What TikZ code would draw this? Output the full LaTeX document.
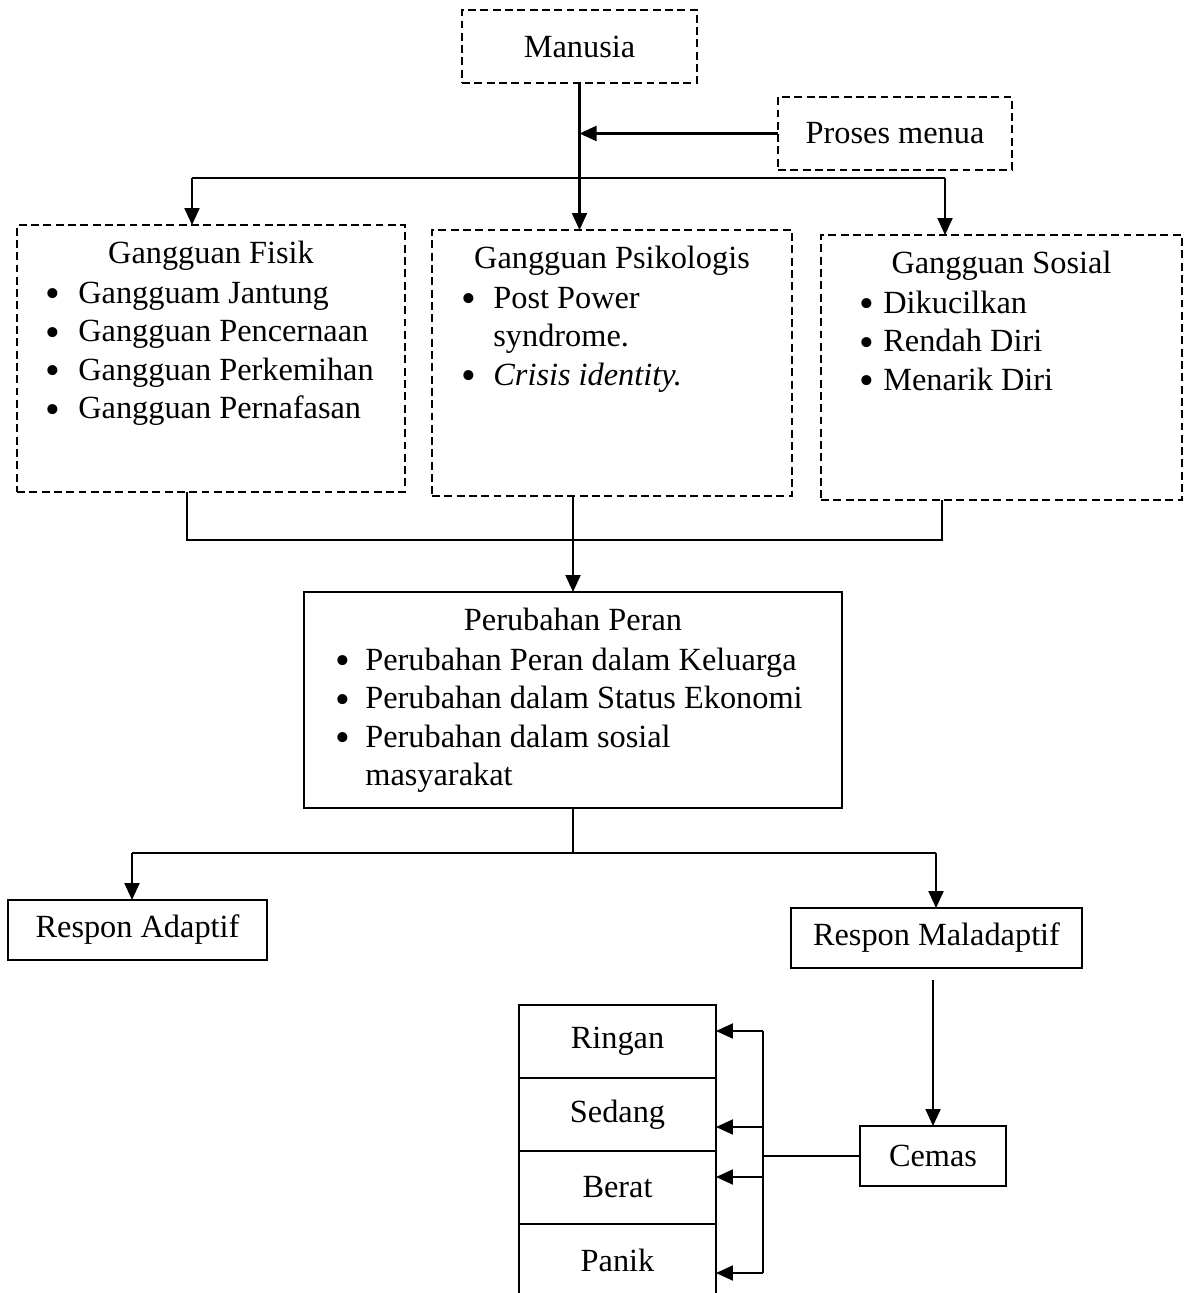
\documentclass[tikz,border=0pt]{standalone}
\usepackage{fontspec}
\setmainfont{Liberation Serif}
\usepackage{tikz}
\usetikzlibrary{arrows.meta,positioning,calc}

\newcommand{\bul}{\smash{\raisebox{-0.14em}{\scalebox{1.3}{\textbullet}}}}

\begin{document}
\begin{tikzpicture}[
    x=0.02cm, y=-0.02cm,
    font=\fontsize{18.4}{22}\selectfont,
    dbox/.style={rectangle, draw, line width=1.3pt, dash pattern=on 4.5pt off 2.5pt, inner sep=0pt, outer sep=0pt},
    box/.style={rectangle, draw, line width=1.1pt, inner sep=0pt, outer sep=0pt},
    grade/.style={box, minimum width=3.94cm, minimum height=1.46cm},
    head/.style={anchor=base, inner sep=0pt},
    list/.style={anchor=base west, inner sep=0pt},
    arrow/.style={-{Triangle[length=0.34cm, width=0.3cm]}, line width=1.2pt},
    conn/.style={line width=1.2pt},
]
    \useasboundingbox (0,0) rectangle (1188,1293);

    % Top
    \node[dbox, minimum width=4.7cm, minimum height=1.46cm] (manusia) at (579.5,46.5) {Manusia};
    \node[dbox, minimum width=4.68cm, minimum height=1.46cm] (proses) at (895,133.5) {Proses menua};

    % Gangguan
    \node[dbox, minimum width=7.76cm, minimum height=5.34cm] (fisik) at (211,358.5) {};
    \node[dbox, minimum width=7.2cm, minimum height=5.32cm] (psiko) at (612,363) {};
    \node[dbox, minimum width=7.22cm, minimum height=5.3cm] (sosial) at (1001.5,367.5) {};

    \node[head] (fisik-head) at ([yshift=-0.76cm]fisik.north) {Gangguan Fisik};
    \node[list] (fisik-list) at ([xshift=0.56cm, yshift=-1.56cm]fisik.north west) {%
        \begin{tabular}[t]{@{}p{0.66cm}@{}l@{}}
        \bul & Gangguam Jantung\\
        \bul & Gangguan Pencernaan\\
        \bul & Gangguan Perkemihan\\
        \bul & Gangguan Pernafasan
        \end{tabular}};

    \node[head] (psiko-head) at ([yshift=-0.76cm]psiko.north) {Gangguan Psikologis};
    \node[list] (psiko-list) at ([xshift=0.58cm, yshift=-1.56cm]psiko.north west) {%
        \begin{tabular}[t]{@{}p{0.64cm}@{}l@{}}
        \bul & Post Power\\
             & syndrome.\\
        \bul & \textit{Crisis identity.}
        \end{tabular}};

    \node[head] (sosial-head) at ([yshift=-0.76cm]sosial.north) {Gangguan Sosial};
    \node[list] (sosial-list) at ([xshift=0.76cm, yshift=-1.56cm]sosial.north west) {%
        \begin{tabular}[t]{@{}p{0.48cm}@{}l@{}}
        \bul & Dikucilkan\\
        \bul & Rendah Diri\\
        \bul & Menarik Diri
        \end{tabular}};

    % Perubahan Peran
    \node[box, minimum width=10.76cm, minimum height=4.32cm] (peran) at (573,700) {};
    \node[head] (peran-head) at ([yshift=-0.76cm]peran.north) {Perubahan Peran};
    \node[list] (peran-list) at ([xshift=0.62cm, yshift=-1.56cm]peran.north west) {%
        \begin{tabular}[t]{@{}p{0.6cm}@{}l@{}}
        \bul & Perubahan Peran dalam Keluarga\\
        \bul & Perubahan dalam Status Ekonomi\\
        \bul & Perubahan dalam sosial\\
             & masyarakat
        \end{tabular}};

    % Respon
    \node[box, minimum width=5.18cm, minimum height=1.2cm] (adaptif) at (137.5,930) {Respon Adaptif};
    \node[box, minimum width=5.82cm, minimum height=1.2cm] (maladaptif) at (936.5,938) {Respon Maladaptif};
    \node[box, minimum width=2.92cm, minimum height=1.2cm] (cemas) at (933,1156) {Cemas};

    % Levels
    \node[grade] (ringan) at (617.5,1041.5) {Ringan};
    \node[grade, below=0pt of ringan] (sedang) {Sedang};
    \node[grade, below=0pt of sedang] (berat) {Berat};
    \node[grade, below=0pt of berat] (panik) {Panik};

    % Arrows
    \draw[arrow] (manusia.south) -- (manusia.south |- psiko.north);
    \draw[arrow] (proses.west) -- (proses.west -| manusia.south);
    \coordinate (busL) at (192,178);
    \coordinate (busR) at (945,178);
    \draw[conn] (busL) -- (busR);
    \draw[arrow] (busL) -- (busL |- fisik.north);
    \draw[arrow] (busR) -- (busR |- sosial.north);

    \coordinate (joinL) at (187,540);
    \coordinate (joinR) at (942,540);
    \draw[conn] (joinL |- fisik.south) -- (joinL) -- (joinR) -- (joinR |- sosial.south);
    \draw[arrow] (peran.north |- psiko.south) -- (peran.north);

    \coordinate (forkL) at (132,853);
    \coordinate (forkR) at (936,853);
    \draw[conn] (peran.south) -- (peran.south |- forkL);
    \draw[conn] (forkL) -- (forkR);
    \draw[arrow] (forkL) -- (forkL |- adaptif.north);
    \draw[arrow] (forkR) -- (forkR |- maladaptif.north);
    \draw[arrow, shorten <=0.24cm] (cemas.north |- maladaptif.south) -- (cemas.north);

    \foreach \lvl/\y in {ringan/1031, sedang/1127, berat/1177, panik/1273} {
        \coordinate (rail-\lvl) at (763,\y);
        \draw[arrow] (rail-\lvl) -- (rail-\lvl -| \lvl.east);
    }
    \draw[conn] (rail-ringan) -- (rail-panik);
    \draw[conn] (cemas.west) -- (cemas.west -| rail-ringan);
\end{tikzpicture}
\end{document}
